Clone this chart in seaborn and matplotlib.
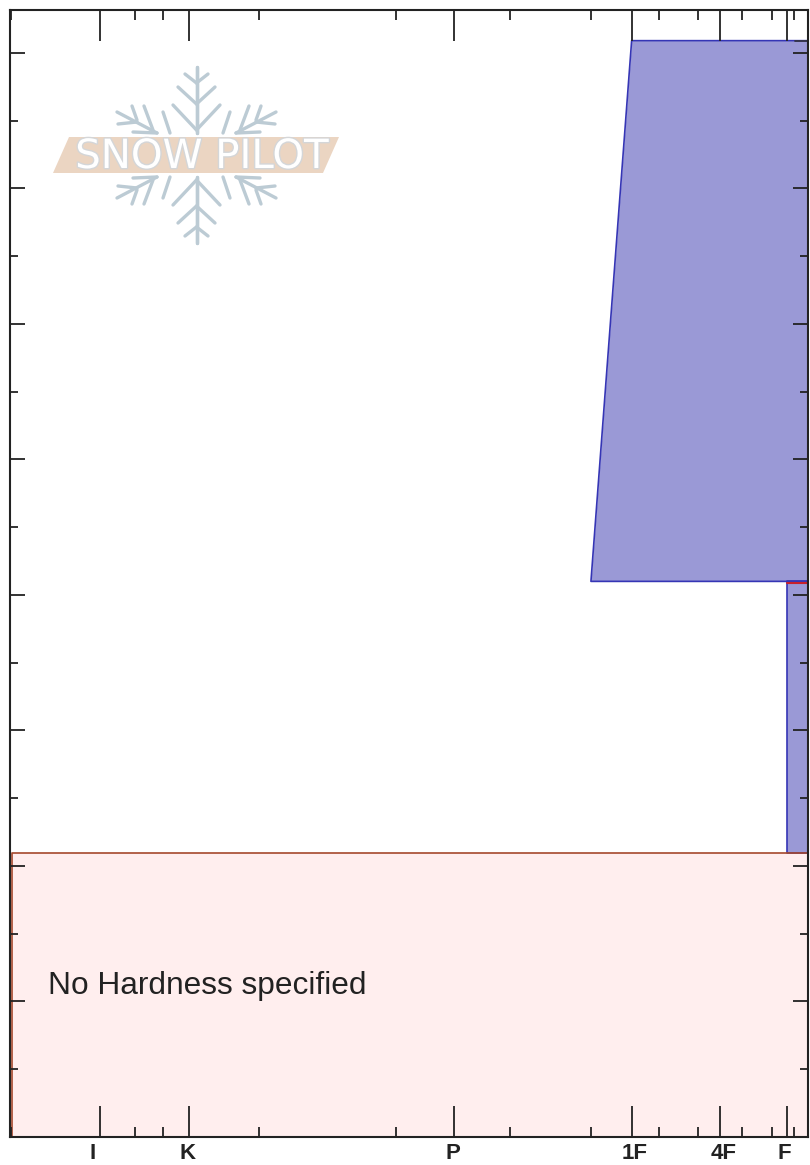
import matplotlib
matplotlib.use("Agg")
import pandas as pd
import seaborn as sns
from matplotlib import pyplot as plt
from matplotlib import patheffects as pe
from matplotlib.transforms import ScaledTranslation

# snow layers, depth in cm from the ground, hardness as % of the axis width
layer_top = [161.8, 82, 41.9]
layer_bottom = [82, 41.9, 0]
hardness_top = [77.9, 97.4, 0.2]
hardness_bottom = [72.8, 97.4, 0.2]
layer_fill = ["#9a99d6", "#9a99d6", "#ffeeee"]
layer_edge = ["#3535b5", "#3535b5", "#a5482c"]

major_pos = [11.28, 22.37, 55.7, 77.94, 89.03, 97.37]
major_names = ["I", "K", "P", "1F", "4F", "F"]
label_shift = [-7, -1, -2, 3, 3, -3]
minor_pos = [0.13, 15.66, 19.17, 31.2, 48.31, 62.66, 72.81, 81.33, 86.22, 91.79, 95.49, 98.25]
depth_major = [20, 40, 60, 80, 100, 120, 140, 160]
depth_minor = [10, 30, 50, 70, 90, 110, 130, 150]

sns.set_theme(style="ticks")
plt.rcParams['font.family'] = ['Liberation Sans', 'DejaVu Sans']

fig = plt.figure(figsize=(8.10, 11.65), dpi=100)
ax = fig.add_axes([10 / 810, 1 - 1137 / 1165, 798 / 810, 1127.5 / 1165])
ax.set_xlim(0, 100)
ax.set_ylim(0, 166.4)
ax.set_axisbelow(False)

# layers
for i in range(len(layer_top)):
    ax.fill_betweenx([layer_bottom[i], layer_top[i]], [hardness_bottom[i], hardness_top[i]], 100,
                     color=layer_fill[i], linewidth=0, zorder=1)
    outline = pd.DataFrame({
        "x": [100, hardness_bottom[i], hardness_top[i], 100],
        "y": [layer_bottom[i], layer_bottom[i], layer_top[i], layer_top[i]],
    })
    sns.lineplot(data=outline, x="x", y="y", sort=False, estimator=None, color=layer_edge[i],
                 linewidth=1.2, ax=ax, zorder=2)
ax.plot([97.4, 100], [81.7, 81.7], color="#c8202c", linewidth=1.5, zorder=2)
ax.plot([98.4, 100], [161.8, 161.8], color="#333344", linewidth=1.3, zorder=2)

ax.text(4.75, 22.3, "No Hardness specified", fontsize=22.8, color="#222222", va="center", ha="left")

# axes
ax.set_xlabel("")
ax.set_ylabel("")
ax.set_xticks(major_pos)
ax.set_xticklabels(major_names, fontsize=16, fontweight="bold", color="#222222")
ax.set_xticks(minor_pos, minor=True)
ax.set_yticks(depth_major)
ax.set_yticklabels([])
ax.set_yticks(depth_minor, minor=True)
ax.tick_params(axis="x", which="major", direction="in", top=True, bottom=True, length=22, width=1.3, color="#222222", pad=4)
ax.tick_params(axis="x", which="minor", direction="in", top=True, bottom=True, length=7, width=1.3, color="#222222")
ax.tick_params(axis="y", which="major", direction="in", left=True, right=True, length=11, width=1.3, color="#222222")
ax.tick_params(axis="y", which="minor", direction="in", left=True, right=True, length=6, width=1.3, color="#222222")
for lab, dx in zip(ax.get_xticklabels(), label_shift):
    lab.set_transform(lab.get_transform() + ScaledTranslation(dx / 100, 0, fig.dpi_scale_trans))
for s in ax.spines.values():
    s.set_linewidth(1.5)
    s.set_color("#222222")
    s.set_zorder(5)

# logo, in figure pixels
logo = fig.add_axes([0, 0, 1, 1], facecolor="none")
logo.set_xlim(0, 810)
logo.set_ylim(1165, 0)
logo.axis("off")
flake = "#bccbd4"
cx, cy = 196.5, 155
# upper left quarter of the flake, mirrored to the other three
flake_segments = [
    ((196.5, 67), (196.5, 133)), ((173, 105), (196.5, 130)), ((178, 87), (196.5, 104)), ((185, 74), (196.5, 83)),
    ((163, 112), (170, 133)),
    ((117, 112), (157, 133)), ((132, 106), (137, 120)), ((144, 106), (153, 130)),
    ((118, 124), (137, 122)), ((133, 132), (157, 133)),
]
for (x0, y0), (x1, y1) in flake_segments:
    for mx in (False, True):
        for my in (False, True):
            xs = [2 * cx - x0, 2 * cx - x1] if mx else [x0, x1]
            ys = [2 * cy - y0, 2 * cy - y1] if my else [y0, y1]
            logo.plot(xs, ys, color=flake, lw=2.4, solid_capstyle="round")
logo.fill([69, 339, 323, 53], [137, 137, 173, 173], color="#ebd5c2", linewidth=0, zorder=3)
logo.text(202, 157, "SNOW PILOT", fontsize=29, family="DejaVu Sans", color="white", ha="center", va="center", zorder=4,
          path_effects=[pe.withStroke(linewidth=2, foreground="#d4d6d8")])

fig.savefig("out.png", dpi=100)
